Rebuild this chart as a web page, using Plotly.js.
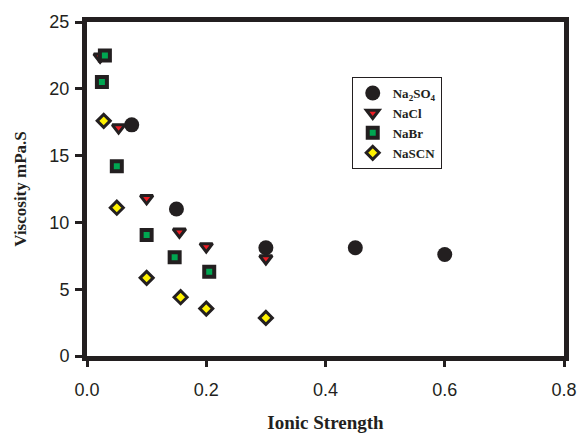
<!DOCTYPE html>
<html>
<head>
<meta charset="utf-8">
<script src="https://cdn.plot.ly/plotly-3.0.1.min.js"></script>
<style>html,body{margin:0;padding:0;background:#fff;}#chart{width:577px;height:433px;}</style>
</head>
<body>
<div id="chart"></div>
<script>
// Data
const na2so4_x = [0.075, 0.15, 0.30, 0.45, 0.60];
const na2so4_y = [17.3, 11.0, 8.1, 8.1, 7.6];

const nacl_x = [0.022, 0.053, 0.10, 0.155, 0.20, 0.30];
const nacl_y = [22.4, 17.1, 11.8, 9.3, 8.2, 7.3];

const nabr_x = [0.030, 0.025, 0.050, 0.10, 0.147, 0.205];
const nabr_y = [22.5, 20.5, 14.2, 9.05, 7.4, 6.3];

const nascn_x = [0.028, 0.050, 0.10, 0.157, 0.20, 0.30];
const nascn_y = [17.6, 11.1, 5.85, 4.4, 3.55, 2.85];

const seriesNames = ['Na<sub>2</sub>SO<sub>4</sub>', 'NaCl', 'NaBr', 'NaSCN'];
const xTicks = [0, 0.2, 0.4, 0.6, 0.8];
const yTicks = [0, 5, 10, 15, 20, 25];

const dark = '#231f20';

const traces = [
  {x: na2so4_x, y: na2so4_y, name: seriesNames[0], type: 'scatter', mode: 'markers',
   marker: {symbol: 'circle', size: 15, color: dark, line: {width: 0}}},
  {x: nacl_x, y: nacl_y, name: seriesNames[1], type: 'scatter', mode: 'markers',
   marker: {symbol: 'triangle-down', size: 11, color: '#ed1c24', line: {width: 3, color: dark}}},
  {x: nabr_x, y: nabr_y, name: seriesNames[2], type: 'scatter', mode: 'markers',
   marker: {symbol: 'square', size: 10, color: '#00a651', line: {width: 4, color: dark}}},
  {x: nascn_x, y: nascn_y, name: seriesNames[3], type: 'scatter', mode: 'markers',
   marker: {symbol: 'diamond', size: 10, color: '#fff200', line: {width: 3, color: dark}}}
];

const layout = {
  width: 577, height: 433,
  margin: {l: 87, r: 13, t: 22, b: 77},
  paper_bgcolor: '#fff', plot_bgcolor: '#fff',
  showlegend: true,
  legend: {
    x: 0.555, y: 0.835, xanchor: 'left', yanchor: 'top',
    bgcolor: '#fff', bordercolor: dark, borderwidth: 1,
    font: {family: 'Liberation Serif, Times New Roman, serif', size: 13, color: dark, weight: 'bold'},
    tracegroupgap: 0
  },
  xaxis: {
    range: [0, 0.8], tickvals: xTicks, tickformat: '.1f',
    showgrid: false, zeroline: false,
    showline: true, linecolor: dark, linewidth: 5, mirror: true,
    ticks: 'outside', ticklen: 6, tickwidth: 3, tickcolor: dark,
    ticklabelstandoff: 7, ticklabeloverflow: 'allow',
    tickfont: {family: 'Liberation Sans, Arial, sans-serif', size: 18, color: dark},
    title: {text: 'Ionic Strength', standoff: 22,
      font: {family: 'Liberation Serif, Times New Roman, serif', size: 19, color: dark, weight: 'bold'}}
  },
  yaxis: {
    range: [0, 25], tickvals: yTicks,
    showgrid: false, zeroline: false,
    showline: true, linecolor: dark, linewidth: 5, mirror: true,
    ticks: 'outside', ticklen: 7, tickwidth: 3, tickcolor: dark,
    ticklabelstandoff: 2,
    tickfont: {family: 'Liberation Sans, Arial, sans-serif', size: 18, color: dark},
    title: {text: 'Viscosity mPa.S', standoff: 20,
      font: {family: 'Liberation Serif, Times New Roman, serif', size: 17, color: dark, weight: 'bold'}}
  }
};

Plotly.newPlot('chart', traces, layout, {displayModeBar: false, staticPlot: true});
</script>
</body>
</html>
